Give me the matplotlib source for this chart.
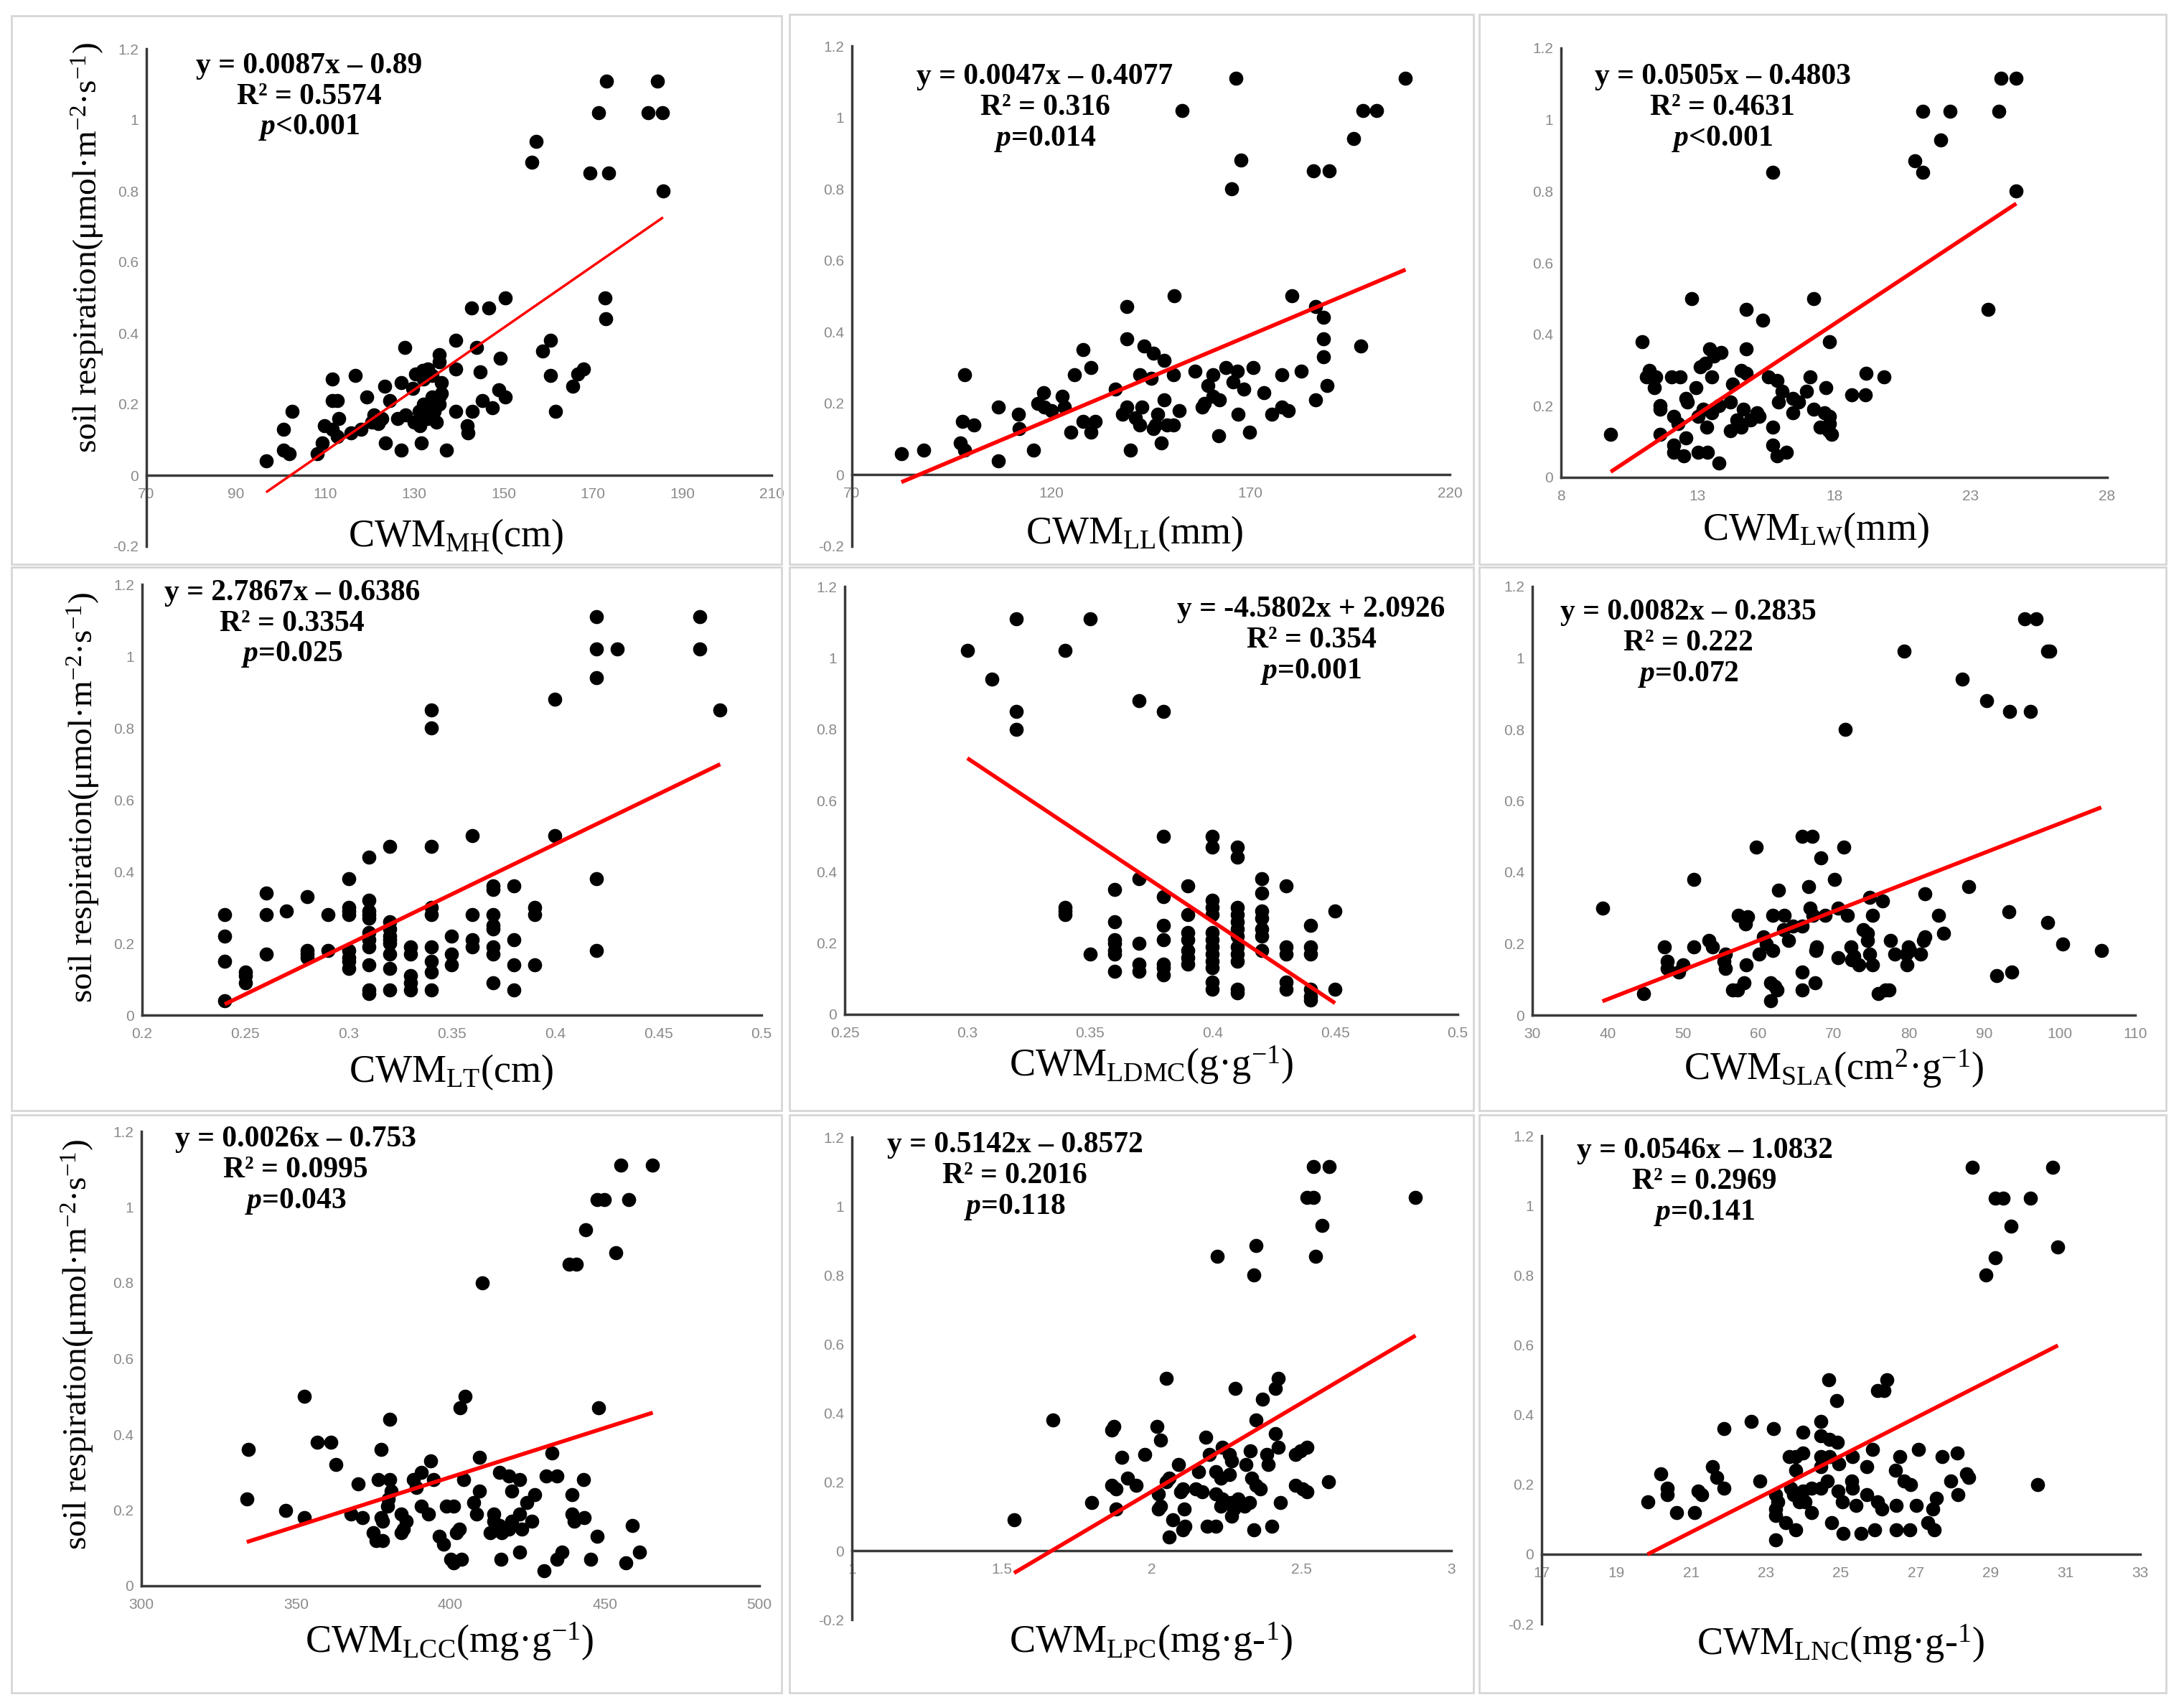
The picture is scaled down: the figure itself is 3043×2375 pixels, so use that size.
import numpy as np
import matplotlib
matplotlib.use('Agg')
import matplotlib.pyplot as plt
from matplotlib.patches import Rectangle
from matplotlib.ticker import FuncFormatter

plt.rcParams['font.family'] = ['Liberation Serif', 'DejaVu Serif']
plt.rcParams['mathtext.fontset'] = 'custom'
plt.rcParams['mathtext.rm'] = 'Liberation Serif'
plt.rcParams['mathtext.it'] = 'Liberation Serif:italic'
plt.rcParams['mathtext.bf'] = 'Liberation Serif:bold'
plt.rcParams['mathtext.bfit'] = 'Liberation Serif:italic:bold'

# -----------------------------
# Data
# -----------------------------
mh_x = [173.0, 184.4, 171.2, 182.3, 185.5, 157.2, 156.3, 169.3, 173.5, 185.7,
        150.4, 172.7, 172.9, 142.8, 146.7, 139.2, 144.0, 127.9, 160.5, 158.8,
        149.3, 167.9, 166.6, 165.4, 160.5, 161.6, 139.2, 144.8, 135.6, 111.6,
        116.7, 119.3, 111.6, 112.7, 109.9, 111.6, 112.7, 115.8, 109.4, 108.2,
        102.6, 100.7, 100.7, 102.0, 96.8, 123.4, 121.9, 122.8, 124.5, 126.2,
        123.6, 127.1, 127.0, 130.2, 131.9, 129.6, 131.3, 131.6, 137.2, 136.1,
        135.6, 139.2, 141.8, 142.0, 143.0, 145.3, 147.4, 149.0, 150.4, 131.0,
        132.5, 133.5, 134.5, 135.5, 133.0, 135.0, 132.0, 134.0, 130.0, 128.0,
        121.0, 120.5, 135.5, 133.0, 132.0, 136.0, 134.0, 113.0, 118.0]
mh_y = [1.11, 1.11, 1.02, 1.02, 1.02, 0.94, 0.88, 0.85, 0.85, 0.80,
        0.50, 0.50, 0.44, 0.47, 0.47, 0.38, 0.36, 0.36, 0.38, 0.35,
        0.33, 0.30, 0.285, 0.25, 0.28, 0.18, 0.30, 0.29, 0.34, 0.27,
        0.28, 0.22, 0.21, 0.21, 0.14, 0.13, 0.11, 0.12, 0.09, 0.06,
        0.18, 0.13, 0.07, 0.06, 0.04, 0.25, 0.145, 0.16, 0.21, 0.16,
        0.09, 0.07, 0.26, 0.285, 0.295, 0.245, 0.14, 0.09, 0.07, 0.23,
        0.22, 0.18, 0.14, 0.12, 0.18, 0.21, 0.19, 0.24, 0.22, 0.18,
        0.17, 0.19, 0.18, 0.20, 0.16, 0.15, 0.20, 0.22, 0.15, 0.17,
        0.17, 0.15, 0.32, 0.30, 0.27, 0.26, 0.28, 0.16, 0.13]

ll_x = [166.4, 208.9, 152.8, 198.3, 201.7, 195.8, 167.6, 165.3, 185.8, 189.8,
        150.9, 180.3, 186.3, 188.3, 188.3, 188.3, 189.2, 186.3, 197.6, 138.9,
        138.9, 128.0, 130.0, 125.8, 143.3, 145.6, 148.3, 142.2, 145.0, 150.6,
        156.1, 160.6, 159.4, 163.9, 166.7, 165.6, 168.3, 170.6, 173.3, 177.8,
        182.8, 175.3, 177.8, 179.4, 169.8, 166.9, 162.0, 160.6, 162.2, 157.8,
        152.2, 148.3, 150.6, 147.6, 146.7, 146.1, 145.6, 142.8, 141.1, 142.2,
        138.9, 137.8, 139.8, 136.1, 128.0, 131.1, 130.0, 124.9, 122.8, 123.3,
        118.1, 116.7, 118.3, 120.0, 115.6, 111.7, 112.0, 106.7, 106.7, 98.3,
        97.8, 100.6, 97.2, 98.3, 88.0, 82.4, 149.0, 158.5]
ll_y = [1.11, 1.11, 1.02, 1.02, 1.02, 0.94, 0.88, 0.80, 0.85, 0.85,
        0.50, 0.50, 0.47, 0.44, 0.38, 0.33, 0.25, 0.21, 0.36, 0.47,
        0.38, 0.35, 0.30, 0.28, 0.36, 0.34, 0.32, 0.28, 0.27, 0.28,
        0.29, 0.28, 0.25, 0.30, 0.29, 0.26, 0.24, 0.30, 0.23, 0.28,
        0.29, 0.17, 0.19, 0.18, 0.12, 0.17, 0.11, 0.22, 0.21, 0.19,
        0.18, 0.21, 0.14, 0.09, 0.17, 0.14, 0.13, 0.19, 0.16, 0.14,
        0.19, 0.17, 0.07, 0.24, 0.15, 0.15, 0.12, 0.12, 0.22, 0.19,
        0.23, 0.20, 0.19, 0.18, 0.07, 0.17, 0.13, 0.19, 0.04, 0.28,
        0.15, 0.14, 0.09, 0.07, 0.07, 0.06, 0.14, 0.20]

lw_x = [24.1, 24.67, 21.25, 22.24, 24.04, 21.9, 20.95, 21.25, 15.76, 24.67,
        23.64, 12.79, 17.24, 14.77, 15.38, 10.97, 17.82, 14.77, 13.45, 13.6,
        13.86, 13.28, 13.11, 11.22, 11.14, 11.47, 12.04, 12.37, 13.53, 14.6,
        14.77, 15.59, 15.92, 17.13, 19.17, 19.83, 12.95, 11.42, 14.27, 16.09,
        17.0, 17.7, 18.64, 19.14, 12.57, 12.62, 11.63, 11.63, 16.5, 16.7,
        15.97, 14.19, 13.78, 13.53, 13.2, 13.03, 12.13, 12.29, 17.24, 17.65,
        17.82, 17.82, 16.5, 14.68, 15.18, 14.93, 15.26, 14.44, 14.6, 14.19,
        13.33, 15.76, 17.49, 17.9, 17.8, 9.82, 11.63, 12.57, 12.13, 12.13,
        12.5, 13.03, 13.36, 13.78, 15.76, 15.92, 16.25]
lw_y = [1.115, 1.115, 1.024, 1.024, 1.024, 0.943, 0.884, 0.853, 0.853, 0.80,
        0.47, 0.50, 0.50, 0.47, 0.44, 0.38, 0.38, 0.36, 0.36, 0.34,
        0.35, 0.32, 0.31, 0.30, 0.28, 0.28, 0.28, 0.28, 0.28, 0.30,
        0.29, 0.28, 0.27, 0.28, 0.29, 0.28, 0.25, 0.25, 0.26, 0.24,
        0.24, 0.25, 0.23, 0.23, 0.22, 0.21, 0.20, 0.19, 0.22, 0.21,
        0.21, 0.21, 0.20, 0.18, 0.19, 0.17, 0.17, 0.15, 0.19, 0.18,
        0.17, 0.15, 0.18, 0.19, 0.18, 0.16, 0.17, 0.16, 0.14, 0.13,
        0.14, 0.14, 0.14, 0.12, 0.13, 0.12, 0.12, 0.11, 0.09, 0.07,
        0.06, 0.07, 0.07, 0.04, 0.09, 0.06, 0.07]

lt_x = [0.24, 0.24, 0.24, 0.24, 0.25, 0.25, 0.25, 0.26, 0.26, 0.26,
        0.27, 0.28, 0.28, 0.28, 0.28, 0.29, 0.29, 0.30, 0.30, 0.30,
        0.30, 0.30, 0.30, 0.30, 0.30, 0.31, 0.31, 0.31, 0.31, 0.31,
        0.31, 0.31, 0.31, 0.31, 0.31, 0.31, 0.32, 0.32, 0.32, 0.32,
        0.32, 0.32, 0.32, 0.32, 0.32, 0.33, 0.33, 0.33, 0.33, 0.33,
        0.34, 0.34, 0.34, 0.34, 0.34, 0.34, 0.34, 0.34, 0.34, 0.35,
        0.35, 0.35, 0.36, 0.36, 0.36, 0.36, 0.37, 0.37, 0.37, 0.37,
        0.37, 0.37, 0.37, 0.37, 0.38, 0.38, 0.38, 0.38, 0.39, 0.39,
        0.39, 0.40, 0.40, 0.42, 0.42, 0.42, 0.42, 0.42, 0.43, 0.47,
        0.47, 0.48]
lt_y = [0.28, 0.22, 0.15, 0.04, 0.12, 0.11, 0.09, 0.34, 0.28, 0.17,
        0.29, 0.33, 0.18, 0.17, 0.16, 0.28, 0.18, 0.38, 0.30, 0.29,
        0.28, 0.18, 0.16, 0.15, 0.13, 0.44, 0.32, 0.29, 0.28, 0.27,
        0.23, 0.21, 0.19, 0.14, 0.07, 0.06, 0.47, 0.26, 0.24, 0.22,
        0.21, 0.20, 0.17, 0.13, 0.07, 0.19, 0.17, 0.11, 0.09, 0.07,
        0.85, 0.80, 0.47, 0.30, 0.28, 0.19, 0.15, 0.12, 0.07, 0.22,
        0.17, 0.14, 0.50, 0.28, 0.21, 0.19, 0.36, 0.35, 0.28, 0.25,
        0.24, 0.19, 0.17, 0.09, 0.36, 0.21, 0.14, 0.07, 0.30, 0.28,
        0.14, 0.88, 0.50, 1.11, 1.02, 0.94, 0.38, 0.18, 1.02, 1.11,
        1.02, 0.85]

ldmc_x = [0.30, 0.31, 0.32, 0.32, 0.32, 0.34, 0.34, 0.34, 0.34, 0.35,
          0.35, 0.36, 0.36, 0.36, 0.36, 0.36, 0.36, 0.36, 0.37, 0.37,
          0.37, 0.37, 0.37, 0.38, 0.38, 0.38, 0.38, 0.38, 0.38, 0.38,
          0.38, 0.39, 0.39, 0.39, 0.39, 0.39, 0.39, 0.39, 0.40, 0.40,
          0.40, 0.40, 0.40, 0.40, 0.40, 0.40, 0.40, 0.40, 0.40, 0.40,
          0.40, 0.41, 0.41, 0.41, 0.41, 0.41, 0.41, 0.41, 0.41, 0.41,
          0.41, 0.41, 0.41, 0.42, 0.42, 0.42, 0.42, 0.42, 0.42, 0.42,
          0.43, 0.43, 0.43, 0.43, 0.43, 0.44, 0.44, 0.44, 0.44, 0.44,
          0.44, 0.45, 0.45]
ldmc_y = [1.02, 0.94, 1.11, 0.85, 0.80, 1.02, 0.30, 0.29, 0.28, 1.11,
          0.17, 0.35, 0.26, 0.21, 0.20, 0.18, 0.17, 0.12, 0.88, 0.38,
          0.20, 0.14, 0.12, 0.85, 0.50, 0.33, 0.25, 0.21, 0.14, 0.13,
          0.11, 0.36, 0.28, 0.23, 0.21, 0.18, 0.16, 0.14, 0.50, 0.47,
          0.32, 0.30, 0.28, 0.23, 0.21, 0.19, 0.17, 0.15, 0.13, 0.09,
          0.07, 0.47, 0.44, 0.30, 0.28, 0.26, 0.24, 0.22, 0.19, 0.17,
          0.15, 0.07, 0.06, 0.38, 0.34, 0.29, 0.27, 0.24, 0.22, 0.18,
          0.36, 0.19, 0.17, 0.09, 0.07, 0.25, 0.19, 0.17, 0.07, 0.05,
          0.04, 0.29, 0.07]

sla_x = [95.3, 96.9, 79.3, 98.4, 98.7, 87.0, 90.3, 93.3, 96.1, 71.5,
         65.8, 67.1, 59.7, 71.3, 68.3, 51.4, 70.1, 66.7, 62.7, 87.9,
         82.1, 74.8, 76.5, 39.3, 57.3, 58.6, 58.3, 61.9, 63.4, 66.9,
         67.2, 70.6, 71.8, 68.9, 75.1, 83.9, 93.2, 98.4, 73.9, 74.5,
         74.5, 63.3, 64.6, 65.8, 64.0, 84.6, 82.1, 81.9, 60.7, 61.0,
         53.4, 53.9, 47.5, 51.4, 77.5, 79.9, 80.1, 79.6, 78.1, 81.5,
         72.3, 72.7, 67.7, 67.6, 74.8, 75.1, 73.3, 72.4, 79.7, 70.6,
         100.4, 105.5, 60.1, 61.9, 55.6, 55.4, 55.6, 47.9, 47.9, 50.0,
         49.4, 58.4, 65.8, 91.6, 93.6, 44.8, 56.6, 57.2, 58.1, 61.6,
         62.2, 62.5, 61.6, 65.8, 67.5, 75.9, 76.9, 77.3]
sla_y = [1.11, 1.11, 1.02, 1.02, 1.02, 0.94, 0.88, 0.85, 0.85, 0.80,
         0.50, 0.50, 0.47, 0.47, 0.44, 0.38, 0.38, 0.36, 0.35, 0.36,
         0.34, 0.33, 0.32, 0.30, 0.28, 0.275, 0.255, 0.28, 0.28, 0.30,
         0.28, 0.30, 0.28, 0.28, 0.28, 0.28, 0.29, 0.26, 0.24, 0.23,
         0.21, 0.24, 0.25, 0.25, 0.21, 0.23, 0.22, 0.21, 0.22, 0.20,
         0.21, 0.19, 0.19, 0.19, 0.21, 0.19, 0.18, 0.17, 0.17, 0.17,
         0.19, 0.165, 0.19, 0.18, 0.17, 0.14, 0.14, 0.155, 0.14, 0.16,
         0.20, 0.18, 0.17, 0.18, 0.17, 0.15, 0.13, 0.15, 0.13, 0.14,
         0.12, 0.14, 0.12, 0.11, 0.12, 0.06, 0.07, 0.07, 0.09, 0.09,
         0.08, 0.07, 0.04, 0.07, 0.09, 0.06, 0.07, 0.07]

lcc_x = [455.1, 465.5, 447.5, 449.9, 457.7, 443.7, 453.5, 438.5, 440.7, 410.4,
         352.8, 404.7, 403.1, 448.0, 380.3, 334.5, 356.9, 361.3, 377.6, 362.9,
         393.5, 409.3, 432.8, 370.2, 376.7, 380.3, 380.8, 390.6, 388.1, 388.9,
         394.6, 404.4, 409.3, 415.8, 419.0, 422.3, 419.8, 430.9, 434.5, 443.1,
         427.2, 424.7, 439.3, 334.1, 346.7, 352.7, 367.8, 371.5, 380.0, 379.7,
         377.6, 378.0, 384.1, 385.7, 384.9, 384.1, 390.6, 393.0, 398.7, 401.1,
         407.6, 408.5, 414.1, 414.1, 412.8, 416.6, 415.8, 419.8, 419.0, 422.3,
         423.1, 426.4, 439.3, 440.1, 443.4, 447.5, 458.9, 396.3, 397.9, 402.8,
         402.0, 375.1, 375.9, 378.0, 400.0, 401.1, 403.6, 416.3, 422.3, 430.4,
         434.5, 436.1, 445.4, 456.9, 461.3]
lcc_y = [1.11, 1.11, 1.02, 1.02, 1.02, 0.94, 0.88, 0.85, 0.85, 0.80,
         0.50, 0.50, 0.47, 0.47, 0.44, 0.36, 0.38, 0.38, 0.36, 0.32,
         0.33, 0.34, 0.35, 0.27, 0.28, 0.28, 0.25, 0.30, 0.28, 0.26,
         0.28, 0.28, 0.25, 0.30, 0.29, 0.28, 0.25, 0.29, 0.29, 0.28,
         0.24, 0.22, 0.24, 0.23, 0.20, 0.18, 0.19, 0.18, 0.23, 0.21,
         0.18, 0.17, 0.19, 0.17, 0.15, 0.14, 0.21, 0.19, 0.21, 0.21,
         0.22, 0.19, 0.19, 0.17, 0.14, 0.14, 0.16, 0.17, 0.15, 0.19,
         0.15, 0.17, 0.19, 0.17, 0.18, 0.13, 0.16, 0.13, 0.11, 0.15,
         0.14, 0.14, 0.12, 0.12, 0.07, 0.06, 0.07, 0.07, 0.09, 0.04,
         0.07, 0.09, 0.07, 0.06, 0.09]

lpc_x = [2.541, 2.593, 2.519, 2.541, 2.881, 2.570, 2.348, 2.219, 2.548, 2.341,
         2.049, 2.422, 2.279, 2.412, 2.370, 1.670, 2.348, 1.874, 1.867, 2.019,
         2.030, 2.181, 2.412, 1.978, 1.901, 2.237, 2.193, 2.259, 2.267, 2.330,
         2.385, 2.390, 2.422, 2.481, 2.496, 2.519, 2.089, 2.315, 2.156, 2.215,
         2.230, 2.259, 2.059, 2.049, 2.333, 2.348, 2.363, 2.481, 2.504, 2.519,
         2.590, 1.919, 1.948, 1.867, 1.881, 1.800, 1.881, 1.541, 2.022, 2.030,
         2.022, 2.104, 2.096, 2.108, 2.070, 2.111, 2.104, 2.059, 2.148, 2.170,
         2.215, 2.237, 2.252, 2.230, 2.267, 2.274, 2.267, 2.289, 2.311, 2.326,
         2.185, 2.215, 2.341, 2.400, 2.430]
lpc_y = [1.115, 1.115, 1.024, 1.024, 1.024, 0.943, 0.885, 0.854, 0.854, 0.80,
         0.50, 0.50, 0.47, 0.47, 0.44, 0.38, 0.38, 0.36, 0.35, 0.36,
         0.32, 0.33, 0.34, 0.28, 0.27, 0.30, 0.28, 0.28, 0.26, 0.29,
         0.28, 0.25, 0.30, 0.28, 0.29, 0.30, 0.25, 0.25, 0.23, 0.23,
         0.21, 0.22, 0.21, 0.20, 0.21, 0.19, 0.18, 0.19, 0.18, 0.17,
         0.20, 0.21, 0.19, 0.19, 0.18, 0.14, 0.12, 0.09, 0.165, 0.13,
         0.12, 0.18, 0.17, 0.12, 0.09, 0.07, 0.06, 0.04, 0.18, 0.17,
         0.165, 0.15, 0.14, 0.13, 0.14, 0.12, 0.10, 0.15, 0.13, 0.14,
         0.07, 0.07, 0.06, 0.07, 0.14]

lnc_x = [28.52, 30.66, 29.12, 29.33, 30.06, 29.54, 30.80, 29.12, 28.88, 30.26,
         24.68, 26.23, 25.97, 26.15, 24.88, 22.60, 24.46, 21.87, 23.20, 23.98,
         24.46, 24.70, 24.90, 25.84, 27.08, 28.11, 26.57, 27.71, 23.62, 23.80,
         23.98, 24.46, 24.70, 25.30, 21.57, 23.80, 24.46, 24.94, 25.69, 26.45,
         26.69, 26.87, 28.35, 28.41, 20.19, 21.69, 21.87, 22.84, 24.64, 25.28,
         25.30, 27.93, 20.35, 20.35, 21.19, 21.27, 23.65, 23.98, 24.22, 24.46,
         24.92, 25.69, 28.13, 27.55, 19.83, 20.61, 21.09, 24.22, 23.26, 23.32,
         23.26, 23.74, 23.88, 24.04, 25.04, 25.40, 25.97, 26.09, 26.48, 27.01,
         27.45, 23.26, 23.53, 23.80, 24.76, 25.06, 25.54, 25.90, 26.48, 26.84,
         27.32, 27.49, 23.26]
lnc_y = [1.11, 1.11, 1.02, 1.02, 1.02, 0.94, 0.88, 0.85, 0.80, 0.20,
         0.50, 0.50, 0.47, 0.47, 0.44, 0.38, 0.38, 0.36, 0.36, 0.35,
         0.34, 0.33, 0.32, 0.30, 0.30, 0.29, 0.28, 0.28, 0.28, 0.28,
         0.29, 0.28, 0.28, 0.28, 0.25, 0.24, 0.25, 0.26, 0.25, 0.24,
         0.21, 0.20, 0.23, 0.22, 0.23, 0.22, 0.19, 0.21, 0.21, 0.21,
         0.19, 0.21, 0.19, 0.17, 0.18, 0.17, 0.19, 0.18, 0.19, 0.19,
         0.18, 0.17, 0.17, 0.16, 0.15, 0.12, 0.12, 0.12, 0.17, 0.15,
         0.13, 0.17, 0.15, 0.15, 0.15, 0.14, 0.15, 0.13, 0.14, 0.14,
         0.13, 0.11, 0.09, 0.07, 0.09, 0.06, 0.06, 0.07, 0.07, 0.07,
         0.09, 0.07, 0.04]

# fitted lines (slope, intercept) and their labels
slopes = [0.0087, 0.0047, 0.0505, 2.7867, -4.5802, 0.0082, 0.0026, 0.5142, 0.0546]
intercepts = [-0.89, -0.4077, -0.4803, -0.6386, 2.0926, -0.2835, -0.753, -0.8572, -1.0832]
eq_labels = ['y = 0.0087x – 0.89', 'y = 0.0047x – 0.4077', 'y = 0.0505x – 0.4803',
             'y = 2.7867x – 0.6386', 'y = -4.5802x + 2.0926', 'y = 0.0082x – 0.2835',
             'y = 0.0026x – 0.753', 'y = 0.5142x – 0.8572', 'y = 0.0546x – 1.0832']
r2_labels = ['R² = 0.5574', 'R² = 0.316', 'R² = 0.4631', 'R² = 0.3354', 'R² = 0.354',
             'R² = 0.222', 'R² = 0.0995', 'R² = 0.2016', 'R² = 0.2969']
p_labels = ['<0.001', '=0.014', '<0.001', '=0.025', '=0.001', '=0.072',
            '=0.043', '=0.118', '=0.141']
x_labels = [r'CWM$_{\mathrm{MH}}$(cm)', r'CWM$_{\mathrm{LL}}$(mm)', r'CWM$_{\mathrm{LW}}$(mm)',
            r'CWM$_{\mathrm{LT}}$(cm)', r'CWM$_{\mathrm{LDMC}}$(g·g$^{\mathrm{-1}}$)',
            r'CWM$_{\mathrm{SLA}}$(cm$^{\mathrm{2}}$·g$^{\mathrm{-1}}$)',
            r'CWM$_{\mathrm{LCC}}$(mg·g$^{\mathrm{-1}}$)', r'CWM$_{\mathrm{LPC}}$(mg·g-$^{\mathrm{1}}$)',
            r'CWM$_{\mathrm{LNC}}$(mg·g-$^{\mathrm{1}}$)']
x_ticks = [[70, 90, 110, 130, 150, 170, 190, 210],
           [70, 120, 170, 220],
           [8, 13, 18, 23, 28],
           [0.2, 0.25, 0.3, 0.35, 0.4, 0.45, 0.5],
           [0.25, 0.3, 0.35, 0.4, 0.45, 0.5],
           [30, 40, 50, 60, 70, 80, 90, 100, 110],
           [300, 350, 400, 450, 500],
           [1, 1.5, 2, 2.5, 3],
           [17, 19, 21, 23, 25, 27, 29, 31, 33]]
y_min = [-0.2, -0.2, 0, 0, 0, 0, 0, -0.2, -0.2]
y_label = 'soil respiration(μmol·m$^{-2}$·s$^{-1}$)'

xs_all = [mh_x, ll_x, lw_x, lt_x, ldmc_x, sla_x, lcc_x, lpc_x, lnc_x]
ys_all = [mh_y, ll_y, lw_y, lt_y, ldmc_y, sla_y, lcc_y, lpc_y, lnc_y]

# -----------------------------
# Layout (pixel positions on the 3043 x 2375 canvas)
# -----------------------------
W, H = 3043, 2375
ax_px = [(204, 1075, 68, 761), (1187, 2020, 64, 761), (2175, 2936, 67, 665),
         (198, 1061, 814, 1414), (1177, 2031, 817, 1413), (2135, 2975, 817, 1414),
         (197, 1058, 1576, 2209), (1187, 2022, 1584, 2256), (2148, 2982, 1582, 2262)]
ann_px = [(431, 92), (1456, 107), (2400, 107),
          (407, 826), (1827, 849), (2352, 853),
          (412, 1587), (1414, 1595), (2375, 1603)]
xl_px = [(635, 748), (1581, 744), (2530, 739),
         (629, 1494), (1604, 1484), (2555, 1489),
         (626, 2287), (1604, 2287), (2565, 2290)]
yl_px = [(122, 345), (116, 1111), (108, 1873)]
frames = [(16, 22, 1089, 786), (1100, 20, 2053, 786), (2061, 20, 3018, 786),
          (16, 790, 1089, 1547), (1100, 790, 2053, 1547), (2061, 790, 3018, 1547),
          (16, 1553, 1089, 2358), (1100, 1553, 2053, 2358), (2061, 1553, 3018, 2358)]
line_w = [2.5, 4, 4, 4, 4, 4, 4, 4, 4]

fig = plt.figure(figsize=(W / 100, H / 100), dpi=100)
fig.patch.set_facecolor('white')

for (x0, y0, x1, y1) in frames:
    fig.add_artist(Rectangle((x0 / W, 1 - y1 / H), (x1 - x0) / W, (y1 - y0) / H,
                             transform=fig.transFigure, fill=False,
                             edgecolor='#d6d6d6', lw=2))

fmt = FuncFormatter(lambda v, p: f'{round(v, 3):g}')

for i in range(9):
    x0, x1, y0, y1 = ax_px[i]
    ax = fig.add_axes([x0 / W, 1 - y1 / H, (x1 - x0) / W, (y1 - y0) / H])
    ax.patch.set_alpha(0)
    xt = x_ticks[i]
    ax.set_xlim(xt[0], xt[-1])
    ax.set_ylim(y_min[i], 1.2)
    ax.set_xticks(xt)
    ax.set_yticks(np.arange(y_min[i], 1.21, 0.2))
    ax.xaxis.set_major_formatter(fmt)
    ax.yaxis.set_major_formatter(fmt)
    ax.spines['top'].set_visible(False)
    ax.spines['right'].set_visible(False)
    ax.spines['bottom'].set_position(('data', 0))
    for s in ['left', 'bottom']:
        ax.spines[s].set_color('#3a3a3a')
        ax.spines[s].set_linewidth(2.5)
    ax.tick_params(length=0, labelsize=15, labelcolor='#8a8a8a',
                   labelfontfamily='Liberation Sans')
    ax.tick_params(axis='x', pad=12)
    ax.tick_params(axis='y', pad=8)

    x = np.array(xs_all[i])
    y = np.array(ys_all[i])
    ax.scatter(x, y, s=200, color='black', linewidths=0, zorder=3, clip_on=False)
    xl = np.array([x.min(), x.max()])
    ax.plot(xl, slopes[i] * xl + intercepts[i], color='#ff0000', lw=line_w[i],
            zorder=4, solid_capstyle='butt')

    cx, cy = ann_px[i]
    fig.text(cx / W, 1 - cy / H, eq_labels[i], ha='center', va='center',
             fontsize=30, fontweight='bold')
    fig.text(cx / W, 1 - (cy + 43) / H, r2_labels[i], ha='center', va='center',
             fontsize=30, fontweight='bold')
    fig.text(cx / W, 1 - (cy + 86) / H, r'$\mathbfit{p}$' + p_labels[i],
             ha='center', va='center', fontsize=30, fontweight='bold')

    lx, ly = xl_px[i]
    fig.text(lx / W, 1 - ly / H, x_labels[i], ha='center', va='center', fontsize=39)

for (lx, ly) in yl_px:
    fig.text(lx / W, 1 - ly / H, y_label, ha='center', va='center',
             rotation=90, fontsize=34)

plt.savefig('out.png', dpi=100)
plt.close()
